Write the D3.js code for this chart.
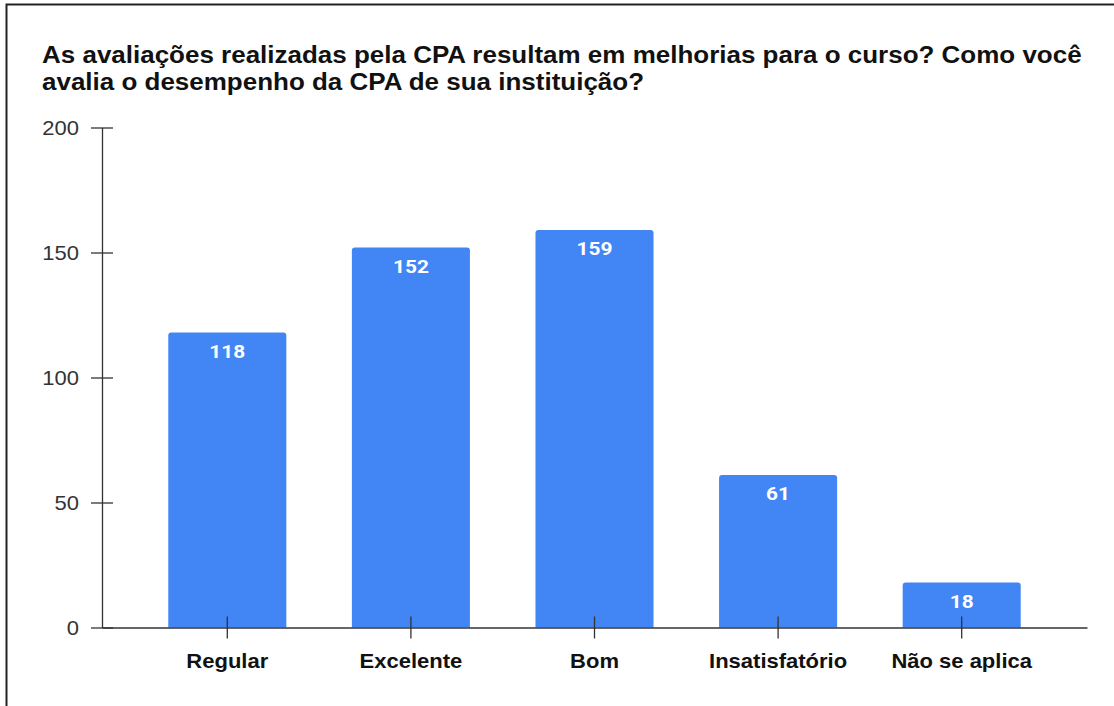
<!DOCTYPE html>
<html>
<head>
<meta charset="utf-8">
<script src="https://cdn.jsdelivr.net/npm/d3@7"></script>
<style>
  body { margin: 0; background: #fff; }
  svg { display: block; font-family: "Liberation Sans", Arial, sans-serif; }
</style>
</head>
<body>
<div class="container"></div>
<script>
const categories = ["Regular", "Excelente", "Bom", "Insatisfatório", "Não se aplica"];
const values = [118, 152, 159, 61, 18];
const yTicks = [0, 50, 100, 150, 200];
const titleLines = [
  "As avaliações realizadas pela CPA resultam em melhorias para o curso? Como você",
  "avalia o desempenho da CPA de sua instituição?"
];

const WIDTH = 1114, HEIGHT = 706;
const LEFT = 102, RIGHT = 1087, TOP = 127.5, BOTTOM = 627.5;
const STRETCH = 1.1;
const TITLE_STRETCH = 1.13;
const BAR_COLOR = "#4285f4";

var svg = d3.select('.container').append('svg').attr("width", WIDTH).attr("height", HEIGHT);

// frame (only top and left edges are inside the picture)
svg.append("rect")
  .attr("x", 6.5).attr("y", 4.5)
  .attr("width", WIDTH + 20).attr("height", HEIGHT + 20)
  .attr("fill", "none").attr("stroke", "#222").attr("stroke-width", 2);

var x = d3.scaleBand().domain(categories).range([LEFT, RIGHT])
  .paddingInner(0.357).paddingOuter(0.361);
var y = d3.scaleLinear().domain([0, 200]).range([BOTTOM, TOP]);

// stretched text helper
var stretchText = function(sel, tx, ty, sx) {
  return sel.attr("transform", function(d, i) {
    return "translate(" + tx(d, i) + "," + ty(d, i) + ") scale(" + (sx || STRETCH) + ",1)";
  });
};

// title
stretchText(svg.append("g").selectAll("text").data(titleLines).join("text")
  .text(d => d)
  .attr("font-size", 23).attr("font-weight", "bold").attr("fill", "#111"),
  () => 42, (d, i) => 63 + i * 27, TITLE_STRETCH);

// y axis
var yAxis = svg.append("g").attr("transform", "translate(" + LEFT + ",0)")
  .call(d3.axisLeft(y).tickValues(yTicks).tickSize(11).tickSizeOuter(0));
yAxis.select(".domain").attr("stroke", "#333").attr("stroke-width", 1.3);
yAxis.selectAll(".tick line").attr("x1", -11).attr("x2", 11).attr("stroke", "#333").attr("stroke-width", 1.3);
yAxis.selectAll(".tick text").attr("x", null).attr("dy", null)
  .attr("font-size", 20).attr("fill", "#333").attr("text-anchor", "end")
  .attr("transform", "translate(-23,7) scale(" + STRETCH + ",1)");

// bars with rounded top corners
var r = 3;
var barPath = function(d, i) {
  var x0 = x(categories[i]), w = x.bandwidth(), yt = y(d), yb = y(0);
  var p = d3.path();
  p.moveTo(x0, yb);
  p.lineTo(x0, yt + r);
  p.quadraticCurveTo(x0, yt, x0 + r, yt);
  p.lineTo(x0 + w - r, yt);
  p.quadraticCurveTo(x0 + w, yt, x0 + w, yt + r);
  p.lineTo(x0 + w, yb);
  p.closePath();
  return p.toString();
};
svg.append("g").selectAll("path").data(values).join("path")
  .attr("d", barPath).attr("fill", BAR_COLOR);

// x axis
var xAxis = svg.append("g").attr("transform", "translate(0," + BOTTOM + ")")
  .call(d3.axisBottom(x).tickSize(11).tickSizeOuter(0));
xAxis.select(".domain").attr("stroke", "#333").attr("stroke-width", 1.5);
xAxis.selectAll(".tick line").attr("y1", -11).attr("y2", 11).attr("stroke", "#333").attr("stroke-width", 1.3);
xAxis.selectAll(".tick text").attr("y", null).attr("dy", null)
  .attr("font-size", 20).attr("font-weight", "bold").attr("fill", "#111")
  .attr("transform", "translate(0,40) scale(" + STRETCH + ",1)");

// value labels
stretchText(svg.append("g").selectAll("text").data(values).join("text")
  .text(d => d)
  .attr("text-anchor", "middle")
  .attr("font-family", "Roboto, sans-serif")
  .attr("font-size", 19).attr("font-weight", "bold").attr("fill", "#fff"),
  (d, i) => x(categories[i]) + x.bandwidth() / 2, d => y(d) + 25);
</script>
</body>
</html>
